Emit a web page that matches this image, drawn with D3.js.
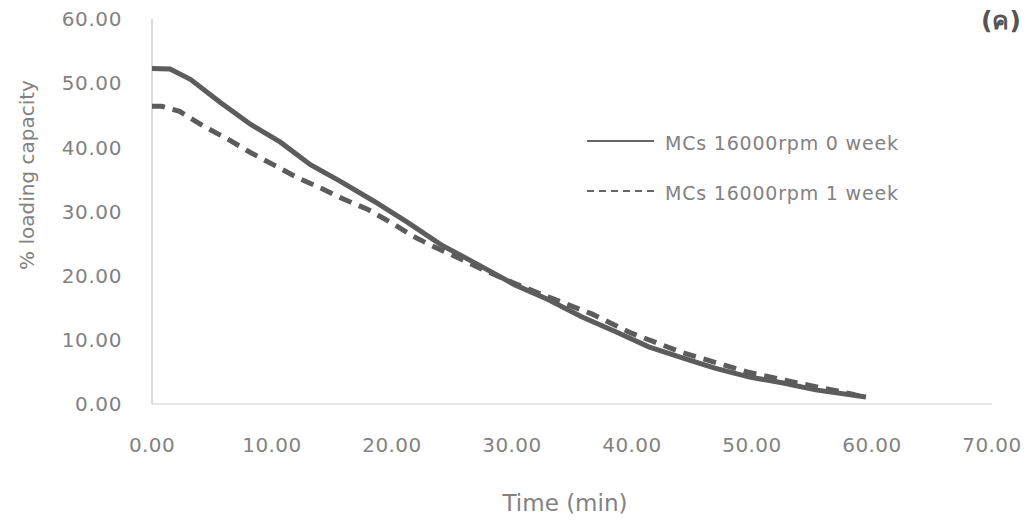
<!DOCTYPE html>
<html>
<head>
<meta charset="utf-8">
<script src="https://cdn.jsdelivr.net/npm/d3@7"></script>
<style>
  body { margin: 0; background: #fff; }
  text { font-family: "DejaVu Sans", sans-serif; fill: #828282; }
</style>
</head>
<body>
<div id="chart"></div>
<script>
// values
var xTicks = [0, 10, 20, 30, 40, 50, 60, 70]
var yTicks = [0, 10, 20, 30, 40, 50, 60]

var week0Time = [0, 1.5, 3.2, 5.7, 8.2, 10.7, 13.2, 15.7, 18.5, 21.3, 24.1, 26.9, 30.2, 33.0, 35.8, 38.6, 41.4, 44.2, 46.9, 49.8, 52.5, 55.3, 59.5]
var week0Value = [52.3, 52.2, 50.6, 47.0, 43.6, 40.8, 37.3, 34.7, 31.6, 28.3, 24.8, 22.0, 18.6, 16.3, 13.6, 11.3, 8.9, 7.2, 5.6, 4.2, 3.3, 2.2, 1.1]

var week1Time = [0, 0.8, 2.3, 4.3, 6.3, 8.2, 10.1, 12.1, 14.0, 16.0, 18.0, 19.9, 21.8, 23.5, 25.5, 27.5, 30.2, 33.0, 36.7, 40.0, 44.2, 49.8, 54.0, 58.2, 59.5]
var week1Value = [46.4, 46.4, 45.6, 43.3, 41.3, 39.2, 37.3, 35.3, 33.7, 31.9, 30.3, 28.3, 26.1, 24.5, 22.8, 21.0, 18.8, 16.7, 14.0, 11.0, 8.0, 4.9, 3.2, 1.6, 1.0]

var seriesNames = ['MCs 16000rpm 0 week', 'MCs 16000rpm 1 week']

var width = 1028
var height = 521

var svg = d3.select('#chart').append('svg')
    .attr('width', width)
    .attr('height', height)

var x = d3.scaleLinear().domain([0, 70]).range([152, 992])
var y = d3.scaleLinear().domain([0, 60]).range([404, 19])

// axis lines, no tick marks
svg.append('line')
    .attr('x1', x(0)).attr('x2', x(0))
    .attr('y1', y(60)).attr('y2', y(0))
    .attr('stroke', '#b5b5b5').attr('stroke-width', 1)
svg.append('line')
    .attr('x1', x(0)).attr('x2', x(70))
    .attr('y1', y(0)).attr('y2', y(0))
    .attr('stroke', '#d0d0d0').attr('stroke-width', 1)

// tick labels
svg.append('g').selectAll('text')
    .data(yTicks)
    .enter().append('text')
    .attr('x', 122)
    .attr('y', function (d) { return y(d) })
    .attr('dy', '0.36em')
    .attr('text-anchor', 'end')
    .attr('font-size', 20)
    .style('letter-spacing', '0.6px')
    .text(function (d) { return d.toFixed(2) })

svg.append('g').selectAll('text')
    .data(xTicks)
    .enter().append('text')
    .attr('x', function (d) { return x(d) })
    .attr('y', 445)
    .attr('dy', '0.36em')
    .attr('text-anchor', 'middle')
    .attr('font-size', 20)
    .style('letter-spacing', '0.4px')
    .text(function (d) { return d.toFixed(2) })

// axis titles
svg.append('text')
    .attr('transform', 'translate(27,175) rotate(-90)')
    .attr('text-anchor', 'middle')
    .attr('dy', '0.36em')
    .attr('font-size', 20)
    .text('% loading capacity')

svg.append('text')
    .attr('x', 565)
    .attr('y', 503)
    .attr('dy', '0.36em')
    .attr('text-anchor', 'middle')
    .attr('font-size', 23)
    .text('Time (min)')

svg.append('text')
    .attr('x', 1001)
    .attr('y', 20)
    .attr('dy', '0.36em')
    .attr('text-anchor', 'middle')
    .attr('font-size', 25)
    .attr('font-weight', 'bold')
    .style('fill', '#555')
    .text('(ค)')

// series
var line = d3.line()
    .x(function (d) { return x(d[0]) })
    .y(function (d) { return y(d[1]) })

var week0 = week0Time.map(function (t, i) { return [t, week0Value[i]] })
var week1 = week1Time.map(function (t, i) { return [t, week1Value[i]] })

svg.append('path')
    .datum(week1)
    .attr('d', line)
    .attr('fill', 'none')
    .attr('stroke', '#5c5c5c')
    .attr('stroke-width', 5)
    .attr('stroke-dasharray', '13 8')

svg.append('path')
    .datum(week0)
    .attr('d', line)
    .attr('fill', 'none')
    .attr('stroke', '#5c5c5c')
    .attr('stroke-width', 5)

// legend
var legend = svg.append('g')
var legendRows = [141, 191]

legend.selectAll('line')
    .data(seriesNames)
    .enter().append('line')
    .attr('x1', 587).attr('x2', 654)
    .attr('y1', function (d, i) { return legendRows[i] })
    .attr('y2', function (d, i) { return legendRows[i] })
    .attr('stroke', '#666')
    .attr('stroke-width', 2)
    .attr('stroke-dasharray', function (d, i) { return i === 1 ? '7 5' : null })

legend.selectAll('text')
    .data(seriesNames)
    .enter().append('text')
    .attr('x', 665)
    .attr('y', function (d, i) { return legendRows[i] + 2 })
    .attr('dy', '0.36em')
    .attr('font-size', 19)
    .style('letter-spacing', '0.8px')
    .text(function (d) { return d })
</script>
</body>
</html>
